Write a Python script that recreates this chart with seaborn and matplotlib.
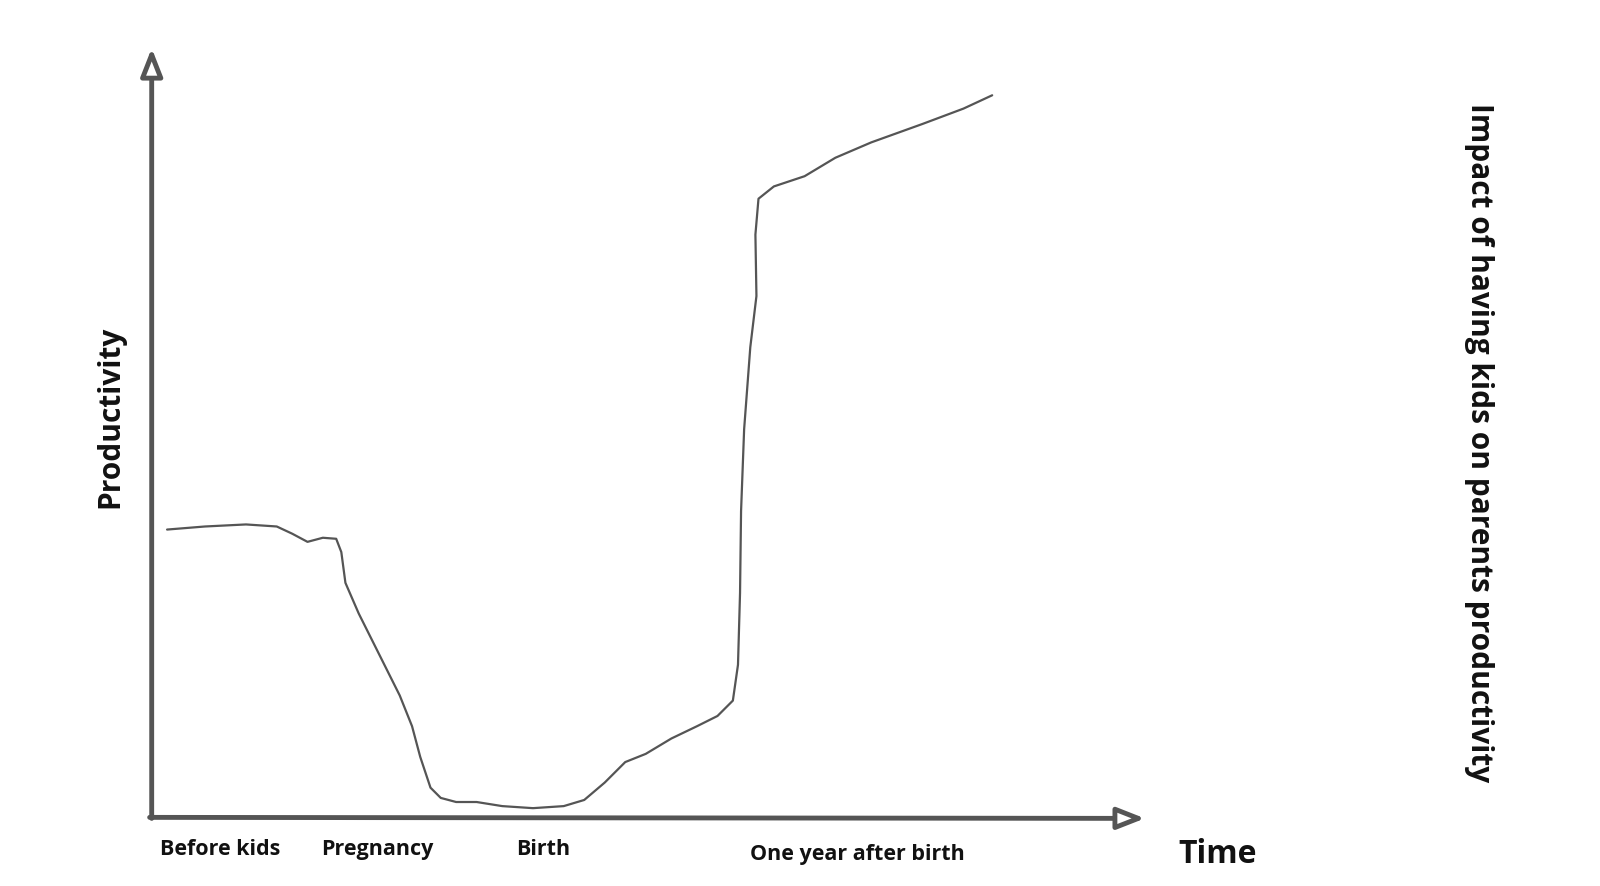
import matplotlib
matplotlib.use("Agg")
import matplotlib.pyplot as plt
import seaborn as sns
import pandas as pd

sns.set_theme(style="white")
plt.rcParams['font.family'] = ['Open Sans', 'DejaVu Sans']

time_x = [163,200,240,270,285,300,315,328,333,337,350,370,390,402,410,420,430,445,465,490,520,550,570,590,610,630,655,680,700,715,720,722,723,726,732,738,737,740,755,785,815,850,900,940,968]
prod_px = [518,515,513,515,522,530,526,527,540,570,600,640,680,710,740,770,780,784,784,788,790,788,782,765,745,737,722,710,700,685,650,580,500,420,340,290,230,195,183,173,155,140,122,107,94]
productivity = [800 - p for p in prod_px]
phase_labels = ["Before kids", "Pregnancy", "Birth", "One year after birth"]
phase_pos = [215, 368, 530, 836]

df = pd.DataFrame({"time": time_x, "productivity": productivity})

fig = plt.figure(figsize=(16, 8.87), dpi=100)
ax = fig.add_axes([0, 0, 1, 1])
ax.set_xlim(0, 1561)
ax.set_ylim(800 - 866, 800)
ax.axis("off")

sns.lineplot(data=df, x="time", y="productivity", sort=False, color="#555555", lw=1.6, ax=ax)

arrow = dict(arrowstyle="-|>,head_length=1.4,head_width=0.55", fc="white", ec="#555555", lw=3.5, shrinkA=0, shrinkB=0)
ax.annotate("", xy=(148, 752), xytext=(148, 0), arrowprops=arrow)
ax.annotate("", xy=(1117, 0), xytext=(146, 1), arrowprops=arrow)

for lab, pos in zip(phase_labels, phase_pos):
    ax.text(pos, 800 - 829 - (5 if pos > 800 else 0), lab, ha="center", va="center", fontsize=15.5, fontweight="bold", color="#111")
ax.text(1188, 800 - 834, "Time", ha="center", va="center", fontsize=23, fontweight="bold", color="#111")
ax.text(108, 800 - 407, "Productivity", ha="center", va="center", rotation=90, fontsize=21.5, fontweight="bold", color="#111")
ax.text(1443, 800 - 432, "Impact of having kids on parents productivity", ha="center", va="center", rotation=-90, fontsize=21.5, fontweight="bold", color="#111")

fig.savefig("out.png", dpi=100)
